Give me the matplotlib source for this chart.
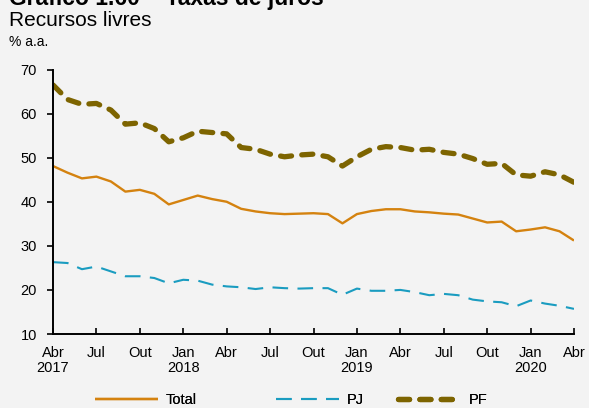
import matplotlib
matplotlib.use("Agg")
import matplotlib.pyplot as plt
import numpy as np

plt.rcParams['font.family'] = ['Liberation Sans', 'DejaVu Sans']

n_points = 37

total = [48.1, 46.6, 45.3, 45.7, 44.6, 42.3, 42.7, 41.8, 39.4, 40.4, 41.4, 40.6,
         40.0, 38.4, 37.8, 37.4, 37.2, 37.3, 37.4, 37.2, 35.1, 37.2, 37.9, 38.3,
         38.3, 37.8, 37.6, 37.3, 37.1, 36.2, 35.3, 35.5, 33.3, 33.7, 34.2, 33.3, 31.2]
pj = [26.3, 26.1, 24.7, 25.3, 24.2, 23.1, 23.1, 22.7, 21.5, 22.3, 22.1, 21.2,
      20.8, 20.6, 20.2, 20.6, 20.4, 20.3, 20.4, 20.4, 18.9, 20.3, 19.8, 19.8,
      20.0, 19.5, 18.8, 19.1, 18.8, 17.8, 17.4, 17.2, 16.3, 17.6, 16.9, 16.4, 15.7]
pf = [66.5, 63.2, 62.1, 62.3, 60.8, 57.6, 57.9, 56.6, 53.6, 54.5, 56.0, 55.7,
      55.4, 52.3, 51.9, 50.8, 50.2, 50.6, 50.8, 50.2, 48.1, 50.2, 51.9, 52.5,
      52.3, 51.7, 51.9, 51.2, 50.8, 49.8, 48.5, 48.7, 46.1, 45.8, 46.8, 46.1, 44.4]

tick_labels = ["Abr\n2017", "Jul", "Out", "Jan\n2018", "Abr", "Jul", "Out",
               "Jan\n2019", "Abr", "Jul", "Out", "Jan\n2020", "Abr"]
y_ticks = [10, 20, 30, 40, 50, 60, 70]

c_total = '#d4820f'
c_pj = '#1a9cc0'
c_pf = '#7d6400'
bg = '#f3f3f3'

W, H = 589, 408
fig = plt.figure(figsize=(W/100, H/100), dpi=100, facecolor=bg)
ax = fig.add_axes([53/W, 1-334/H, (574-53)/W, (334-69.5)/H])
ax.set_facecolor(bg)

x = np.arange(n_points)
l1, = ax.plot(x, total, color=c_total, lw=1.7, label='Total', solid_capstyle='butt')
l2, = ax.plot(x, pj, color=c_pj, lw=1.5, dashes=(7.5, 4.5), label='PJ')
l3, = ax.plot(x, pf, color=c_pf, lw=3.8, dashes=(2.1, 1.95), dash_capstyle='round', label='PF')

ax.set_xlim(0, 36)
ax.set_ylim(10, 70)
ax.set_xticks(np.arange(0, 37, 3))
ax.set_xticklabels(tick_labels, fontsize=10.5, linespacing=1.15)
ax.set_yticks(y_ticks)
ax.set_yticklabels([str(v) for v in y_ticks], fontsize=10.5)
ax.tick_params(axis='x', direction='in', length=4, width=1.2, pad=8.5)
ax.tick_params(axis='y', direction='out', length=4, width=1.2, pad=7.5)
for s in ['top', 'right']:
    ax.spines[s].set_visible(False)
for s in ['left', 'bottom']:
    ax.spines[s].set_linewidth(1.4)

fig.text(9/W, 1-5/H, "Gráfico 1.60 – Taxas de juros", fontsize=16.5, fontweight='bold',
         ha='left', va='baseline')
fig.text(9/W, 1-26/H, "Recursos livres", fontsize=15, ha='left', va='baseline')
fig.text(9/W, 1-45.5/H, "% a.a.", fontsize=10, ha='left', va='baseline')

# legend entries: (line, left x of handle in px)
for handle, x0 in [(l1, 95), (l2, 276), (l3, 398)]:
    lg = fig.legend([handle], [handle.get_label()], loc='center left',
                    bbox_to_anchor=(x0/W, 1-400/H), frameon=False, fontsize=10.5,
                    handlelength=4.3, handletextpad=0.55, borderpad=0, borderaxespad=0)
    fig.add_artist(lg)

fig.savefig('out.png', dpi=100, facecolor=bg)
